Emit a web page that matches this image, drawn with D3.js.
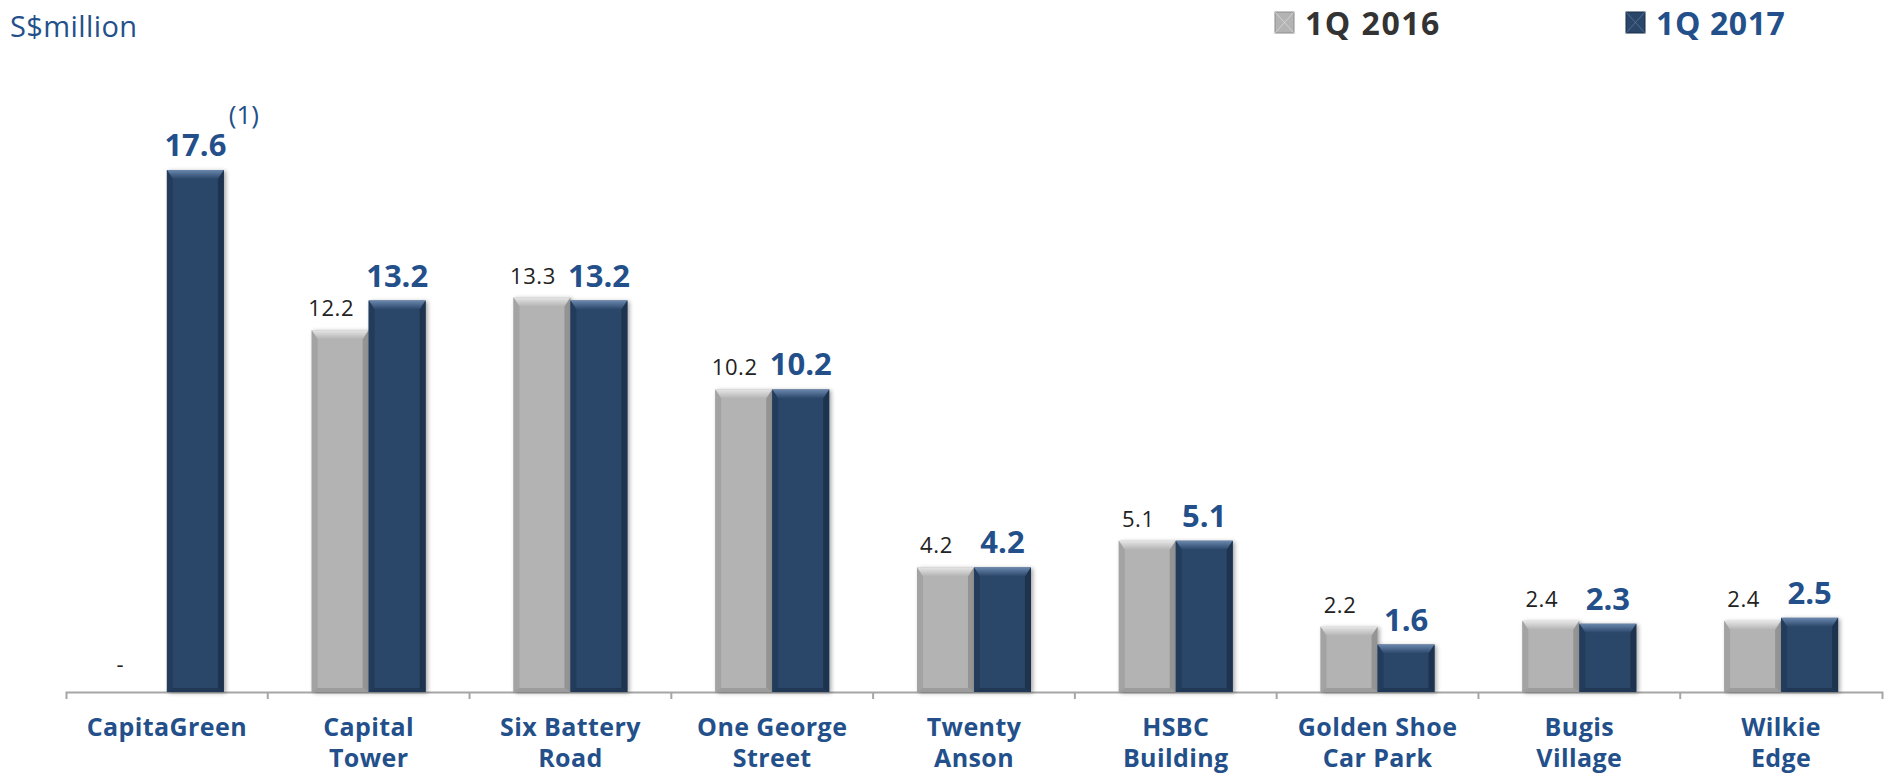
<!DOCTYPE html>
<html>
<head>
<meta charset="utf-8">
<script src="https://cdn.jsdelivr.net/npm/d3@7"></script>
<style>
  body { margin: 0; background: #fff; }
  text { font-family: "Open Sans", sans-serif; }
</style>
</head>
<body>
<svg id="chart"></svg>
<script>
const categories = ["CapitaGreen", "Capital\nTower", "Six Battery\nRoad", "One George\nStreet", "Twenty\nAnson", "HSBC\nBuilding", "Golden Shoe\nCar Park", "Bugis\nVillage", "Wilkie\nEdge"]
const seriesNames = ["1Q 2016", "1Q 2017"]
const q2016 = [null, 12.2, 13.3, 10.2, 4.2, 5.1, 2.2, 2.4, 2.4]
const q2017 = [17.6, 13.2, 13.2, 10.2, 4.2, 5.1, 1.6, 2.3, 2.5]
const unitLabel = "S$million"
const noteLabel = "(1)"

const width = 1893, height = 778
const blue = '#23508a'

const svg = d3.select('#chart').attr('width', width).attr('height', height)

// bevel gradients
const defs = svg.append('defs')
const palette = {
  '1Q 2016': {base: '#b3b3b3', light: '#e6e6e6', dark: '#8c8c8c', side: '#a3a3a3', text: '#222', weight: 400, size: 22, shift: -9, spacing: 0.6},
  '1Q 2017': {base: '#2a4669', light: '#6a87ad', dark: '#1a2e47', side: '#233c5b', text: blue, weight: 700, size: 31, shift: 0, spacing: 0}
}
const shadow = defs.append('filter').attr('id', 'shadow').attr('x', '-20%').attr('y', '-20%').attr('width', '140%').attr('height', '140%')
shadow.append('feDropShadow').attr('dx', 2).attr('dy', 1).attr('stdDeviation', 2).attr('flood-color', '#000').attr('flood-opacity', 0.35)
seriesNames.forEach((s, i) => {
  const g = defs.append('linearGradient').attr('id', 'top' + i).attr('x1', 0).attr('y1', 0).attr('x2', 0).attr('y2', 1)
  g.append('stop').attr('offset', '0%').attr('stop-color', palette[s].light)
  g.append('stop').attr('offset', '100%').attr('stop-color', palette[s].base)
})

const axisY = 692
const x = d3.scaleBand().domain(categories).range([66, 1882]).padding(0)
const xSub = d3.scaleBand().domain(seriesNames).range([0, x.bandwidth()]).paddingInner(0).paddingOuter(0.77)
const y = d3.scaleLinear().domain([0, 17.6]).range([axisY, 170])

const rows = categories.map((c, i) => ({cat: c, values: [
  {series: seriesNames[0], value: q2016[i], idx: 0},
  {series: seriesNames[1], value: q2017[i], idx: 1}
]}))

// axis
const axisG = svg.append('g').attr('transform', 'translate(0,' + axisY + ')')
  .call(d3.axisBottom(x).tickSize(0).tickSizeOuter(7).tickFormat(''))
axisG.select('.domain').attr('stroke', '#a6a6a6').attr('stroke-width', 2)
axisG.selectAll('.tick').remove()
axisG.selectAll('line.sep')
  .data(categories.slice(1))
  .join('line')
    .attr('class', 'sep')
    .attr('x1', d => x(d)).attr('x2', d => x(d))
    .attr('y1', 0).attr('y2', 7)
    .attr('stroke', '#a6a6a6').attr('stroke-width', 2)

// bars
const groups = svg.append('g').selectAll('g')
  .data(rows)
  .join('g')
    .attr('transform', d => 'translate(' + x(d.cat) + ',0)')

const bars = groups.selectAll('g.bar')
  .data(d => d.values.filter(v => v.value != null))
  .join('g')
    .attr('class', 'bar')

bars.each(function(d) {
  const g = d3.select(this)
  const p = palette[d.series]
  const x0 = xSub(d.series), w = xSub.bandwidth()
  const y0 = y(d.value), h = y(0) - y(d.value)
  const b = Math.min(9, h / 2), s = Math.min(6, w / 4)
  g.append('rect').attr('x', x0).attr('y', y0).attr('width', w).attr('height', h)
    .attr('fill', p.base).attr('filter', 'url(#shadow)')
  const poly = pts => pts.map(q => q.join(',')).join(' ')
  g.append('polygon').attr('points', poly([[x0, y0], [x0 + w, y0], [x0 + w - s, y0 + b], [x0 + s, y0 + b]]))
    .attr('fill', 'url(#top' + d.idx + ')')
  g.append('polygon').attr('points', poly([[x0, y0], [x0 + s, y0 + b], [x0 + s, y0 + h - 4], [x0, y0 + h]]))
    .attr('fill', p.side)
  g.append('polygon').attr('points', poly([[x0 + w, y0], [x0 + w - s, y0 + b], [x0 + w - s, y0 + h - 4], [x0 + w, y0 + h]]))
    .attr('fill', p.dark).attr('opacity', 0.8)
  g.append('polygon').attr('points', poly([[x0, y0 + h], [x0 + s, y0 + h - 4], [x0 + w - s, y0 + h - 4], [x0 + w, y0 + h]]))
    .attr('fill', p.dark).attr('opacity', 0.6)
})

// value labels
groups.selectAll('text.val')
  .data(d => d.values)
  .join('text')
    .attr('class', 'val')
    .attr('x', d => xSub(d.series) + xSub.bandwidth() / 2 + (d.value == null ? -18 : palette[d.series].shift))
    .attr('y', d => d.value == null ? y(0) - 20 : y(d.value) - 14)
    .attr('text-anchor', 'middle')
    .attr('fill', d => palette[d.series].text)
    .attr('font-weight', d => palette[d.series].weight)
    .attr('font-size', d => palette[d.series].size)
    .attr('letter-spacing', d => palette[d.series].spacing)
    .text(d => d.value == null ? '-' : d3.format('.1f')(d.value))

// note on first bar
svg.append('text')
  .attr('x', x(categories[0]) + xSub(seriesNames[1]) + xSub.bandwidth() + 20)
  .attr('y', y(q2017[0]) - 46)
  .attr('text-anchor', 'middle')
  .attr('fill', blue)
  .attr('font-size', 26)
  .text(noteLabel)

// category labels
svg.append('g').selectAll('text')
  .data(categories)
  .join('text')
    .attr('x', d => x(d) + x.bandwidth() / 2)
    .attr('y', axisY + 44)
    .attr('text-anchor', 'middle')
    .attr('fill', blue)
    .attr('font-weight', 700)
    .attr('font-size', 25)
    .attr('letter-spacing', 0.4)
    .selectAll('tspan')
    .data(d => d.split('\n'))
    .join('tspan')
      .attr('x', function() { return d3.select(this.parentNode).attr('x') })
      .attr('dy', (d, i) => i === 0 ? 0 : 31)
      .text(d => d)

// unit label
svg.append('text')
  .attr('x', 10).attr('y', 37)
  .attr('fill', blue)
  .attr('font-size', 29)
  .attr('letter-spacing', 0.4)
  .text(unitLabel)

// legend
const legendX = [1275, 1626]
const legend = svg.append('g').selectAll('g')
  .data(seriesNames)
  .join('g')
    .attr('transform', (d, i) => 'translate(' + legendX[i] + ',0)')
legend.append('rect')
  .attr('x', 0).attr('y', 12).attr('width', 19).attr('height', 21)
  .attr('fill', d => palette[d].base)
  .attr('stroke', d => palette[d].dark).attr('stroke-width', 1)
legend.append('path')
  .attr('d', 'M0,12 L9.5,22.5 L19,12 M0,33 L9.5,22.5 L19,33')
  .attr('stroke', d => palette[d].light).attr('stroke-width', 1).attr('fill', 'none').attr('opacity', 0.6)
legend.append('text')
  .attr('x', 30).attr('y', 35)
  .attr('fill', (d, i) => i === 0 ? '#333' : blue)
  .attr('font-weight', 700)
  .attr('font-size', 32)
  .attr('letter-spacing', (d, i) => i === 0 ? 1.5 : 0.6)
  .text(d => d)
</script>
</body>
</html>
